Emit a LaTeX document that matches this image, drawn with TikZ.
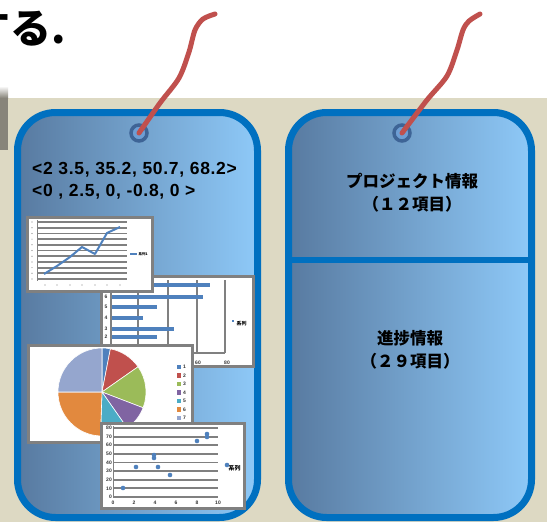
\documentclass[tikz,border=0pt]{standalone}
\usepackage{fontspec}
\setmainfont{Liberation Sans}
\newfontfamily\jp{Noto Sans CJK JP}
\newfontfamily\vecfont{Liberation Sans Bold}[LetterSpace=4]
\usepackage{tikz}
\usetikzlibrary{positioning}
\definecolor{bgtan}{RGB}{221,217,195}
\definecolor{shadowgray}{RGB}{135,132,122}
\definecolor{tagblue}{RGB}{0,112,192}
\definecolor{tagleft}{RGB}{88,122,160}
\definecolor{tagright}{RGB}{142,201,248}
\definecolor{eyering}{RGB}{62,100,150}
\definecolor{eyefill}{RGB}{110,158,212}
\definecolor{cordred}{RGB}{192,80,77}
\definecolor{chartgray}{RGB}{128,128,128}
\definecolor{serblue}{RGB}{79,129,189}
\definecolor{serred}{RGB}{192,80,77}
\definecolor{sergreen}{RGB}{155,187,89}
\definecolor{serpurple}{RGB}{128,100,162}
\definecolor{serteal}{RGB}{75,172,198}
\definecolor{serorange}{RGB}{226,137,62}
\definecolor{serlav}{RGB}{149,166,206}
\tikzstyle{tagbox}=[rectangle,rounded corners=38pt,draw=tagblue,line width=7pt,left color=tagleft,right color=tagright,inner sep=0pt,outer sep=0pt,minimum height=405pt]
\tikzstyle{eyelet}=[circle,draw=eyering,fill=eyefill,line width=3.5pt,minimum size=16pt,inner sep=0pt]
\tikzstyle{cord}=[draw=cordred,line width=5pt,line cap=round,line join=round]
\tikzstyle{chartbox}=[rectangle,draw=chartgray,line width=3pt,fill=white,inner sep=0pt,outer sep=0pt]
\tikzstyle{gridline}=[draw=chartgray,line width=1.8pt]
\tikzstyle{axlabel}=[font=\bfseries\fontsize{5}{5}\selectfont,inner sep=0.5pt,text=black!80]
\tikzstyle{series}=[draw=serblue,line width=2pt]
\tikzstyle{jplabel}=[align=center,font=\jp\bfseries\fontsize{16.5}{23}\selectfont]
\tikzstyle{vector}=[align=left,anchor=west,inner sep=0pt,font=\vecfont\fontsize{17.5}{22}\selectfont]
\begin{document}
\begin{tikzpicture}[x=1pt,y=-1pt]
	\useasboundingbox (0,0) rectangle (547,522);
	\fill[white] (0,0) rectangle (547,98);
	\fill[bgtan] (0,98) rectangle (547,522);
	\begin{scope}
		\clip (0,0) rectangle (547,522);
		\shade[top color=white,bottom color=shadowgray] (0,86) rectangle (8,98);
		\fill[shadowgray] (0,98) rectangle (8,150);
		\node[anchor=base east,inner sep=0pt,font=\jp\bfseries\fontsize{41}{41}\selectfont] (title) at (66,43) {する.};
	\end{scope}

	\node[tagbox,minimum width=240pt] (tagA) at (137.5,315) {};
	\node[tagbox,minimum width=243pt] (tagB) at (410,315) {};
	\draw[tagblue,line width=6pt] (tagB.west |- 0,260) -- (tagB.east |- 0,260);

	% bar chart
	\node[chartbox,minimum width=152pt,minimum height=90pt] (bars) at (177,321) {};
	\foreach \x in {138,168,197,225}
		\draw[gridline] (\x,280) -- (\x,353);
	\draw[gridline] (111,280) -- (111,353) -- (225,353);
	\foreach \y/\e in {285/210,297/203,307/157,318/143,329/174,337/157,346/186}
		\fill[serblue] (112,\y-2) rectangle (\e,\y+2);
	\foreach \y/\t in {297/6,307/5,318/4,329/3,337/2}
		\node[axlabel] at (106,\y) {\t};
	\node[axlabel] at (198,363) {60};
	\node[axlabel] at (227,363) {80};
	\fill[serblue] (232,320) rectangle ++(2,2);
	\node[axlabel,anchor=west,text=black] at (236,324) {\jp 系列};

	% line chart
	\node[chartbox,minimum width=125pt,minimum height=74pt] (line) at (89.5,254) {};
	\foreach \i in {0,...,10}{
		\draw[gridline] (37,{222+5.7*\i}) -- (127,{222+5.7*\i});
		\fill[chartgray] (32,{222+5.7*\i}) circle[radius=0.6];
	}
	\draw[gridline,line width=1pt] (37,220) -- (37,281);
	\foreach \x in {45,57,70,82,95,107,120}
		\fill[chartgray] (\x,285) circle[radius=0.6];
	\draw[series,line join=round] plot coordinates {(44,274) (57,266) (70,257) (82,247) (95,254) (107,233) (120,227)};
	\draw[series] (130,254) -- (137,254);
	\node[anchor=west,inner sep=0.5pt,font=\jp\bfseries\fontsize{3.5}{4}\selectfont] at (138,254) {系列1};

	% pie chart
	\node[chartbox,minimum width=164pt,minimum height=97pt] (pie) at (110,393.5) {};
	\coordinate (piec) at (102,392);
	\foreach \a/\b/\c in {-90/-79/serblue,-79/-35/serred,-35/21/sergreen,21/55/serpurple,55/92/serteal,92/180/serorange,180/270/serlav}
		\filldraw[fill=\c,draw=white,line width=0.6pt] (piec) -- ++(\a:44) arc[start angle=\a,end angle=\b,radius=44] -- cycle;
	\foreach \c [count=\i] in {serblue,serred,sergreen,serpurple,serteal,serorange,serlav}{
		\fill[\c] (177,{364.8+8.5*(\i-1)}) rectangle ++(4.4,4.4);
		\node[axlabel,anchor=west] at (182.5,{367+8.5*(\i-1)}) {\i};
	}

	% scatter chart
	\node[chartbox,minimum width=143pt,minimum height=85pt] (scat) at (172.5,465.5) {};
	\foreach \i in {0,...,8}{
		\draw[gridline] (113,{428+8.625*\i}) -- (218,{428+8.625*\i});
		\pgfmathtruncatemacro\v{80-10*\i}
		\node[axlabel,anchor=east] at (112.5,{428+8.625*\i}) {\v};
	}
	\draw[gridline,line width=1pt] (113,426) -- (113,497);
	\foreach \v [count=\i from 0] in {0,2,...,10}
		\node[axlabel] at ({113+21*\i},503) {\v};
	\foreach \p in {(123,488),(136,467),(154,455),(154,458),(158,467),(170,475),(197,441),(207,434),(207,437)}
		\fill[serblue] \p circle[radius=2.3];
	\fill[serblue] (227,465) circle[radius=2.3];
	\node[anchor=west,inner sep=0pt,font=\jp\bfseries\fontsize{6}{6}\selectfont] at (228.5,468) {系列};

	\node[vector] (vecA) at (32,181) {<2 3.5, 35.2, 50.7, 68.2>\\<0 , 2.5, 0, -0.8, 0 >};
	\node[jplabel] (infoB) at (412,193) {プロジェクト情報\\（１２項目）};
	\node[jplabel] (progB) at (410,350) {進捗情報\\（２９項目）};

	\node[eyelet] (holeA) at (139,133) {};
	\node[eyelet] (holeB) at (402,133) {};
	\coordinate (knotA) at (215,14);
	\coordinate (knotB) at (480,14);
	\draw[cord] plot[smooth] coordinates {(holeA.center) (160,103) (179,78) (189,52) (195,30) (203,19) (knotA)};
	\draw[cord] plot[smooth] coordinates {(holeB.center) (427,100) (447,76) (457,50) (463,30) (469,21) (knotB)};
\end{tikzpicture}
\end{document}
